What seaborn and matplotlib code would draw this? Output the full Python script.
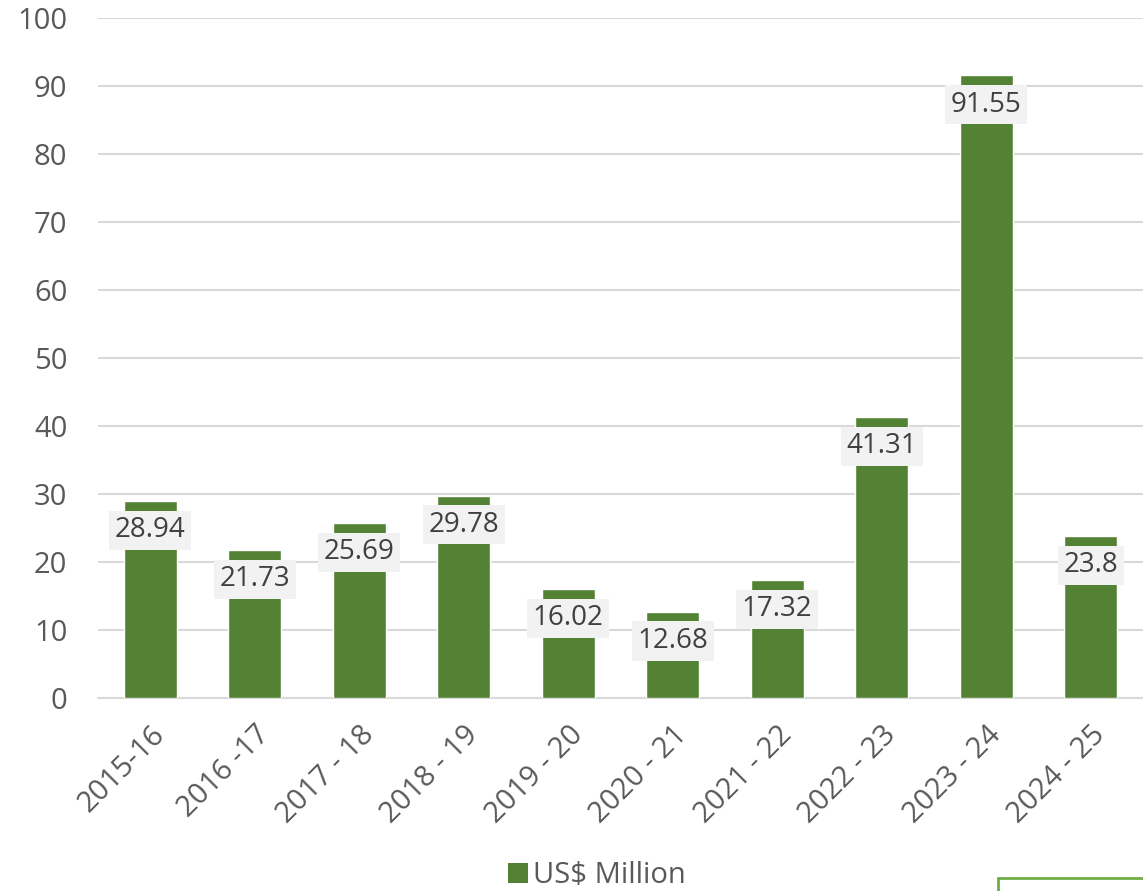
import matplotlib
matplotlib.use("Agg")
import matplotlib.pyplot as plt
import seaborn as sns
import pandas as pd
from matplotlib.patches import Rectangle

years = ["2015-16", "2016 -17", "2017 - 18", "2018 - 19", "2019 - 20",
         "2020 - 21", "2021 - 22", "2022 - 23", "2023 - 24", "2024 - 25"]
values = [28.94, 21.73, 25.69, 29.78, 16.02, 12.68, 17.32, 41.31, 91.55, 23.8]
labels = ["28.94", "21.73", "25.69", "29.78", "16.02",
          "12.68", "17.32", "41.31", "91.55", "23.8"]

df = pd.DataFrame({"year": years, "value": values})

sns.set_theme(style="white")
plt.rcParams["font.family"] = ["Open Sans", "DejaVu Sans"]

fig = plt.figure(figsize=(11.43, 8.91), dpi=100)
ax = fig.add_axes([0.0857, 0.2166, 0.9143, 0.7632])

sns.barplot(data=df, x="year", y="value", color="#548235", saturation=1,
            width=0.51, ax=ax, zorder=3)

for i, (v, lab) in enumerate(zip(values, labels)):
    ax.annotate(lab, (i, v), xytext=(0, -21), textcoords="offset points",
                ha="center", va="center", fontsize=20, color="#404040",
                bbox=dict(boxstyle="square,pad=0.2", fc="#f2f2f2", ec="none"),
                zorder=5)

ax.set_ylim(0, 100)
ax.set_yticks(range(0, 101, 10))
ax.yaxis.grid(True, color="#d9d9d9", linewidth=1.5, zorder=0)
ax.set_axisbelow(True)
ax.set_xlim(-0.5, 9.5)
for s in ["top", "right", "left"]:
    ax.spines[s].set_visible(False)
ax.spines["bottom"].set_color("#d9d9d9")
ax.spines["bottom"].set_linewidth(1.5)
ax.set_xlabel("")
ax.set_ylabel("")
ax.tick_params(axis="y", labelsize=21, labelcolor="#595959", length=0, pad=22)
ax.tick_params(axis="x", labelsize=21, labelcolor="#595959", length=0, pad=16)
plt.setp(ax.get_xticklabels(), rotation=45, ha="right", rotation_mode="anchor")

# legend
handle = Rectangle((0, 0), 1, 1, fc="#548235", ec="none")
fig.legend([handle], ["US$ Million"], loc="center", bbox_to_anchor=(0.522, 0.017),
           frameon=False, fontsize=21, labelcolor="#595959",
           handlelength=0.7, handleheight=0.7, handletextpad=0.15)

# stray outline at bottom right
fig.patches.append(Rectangle((998 / 1143, -0.1), 0.2, 0.1 + 13 / 891,
                             transform=fig.transFigure, fill=False,
                             ec="#70ad47", lw=2))

fig.savefig("out.png", dpi=100)
